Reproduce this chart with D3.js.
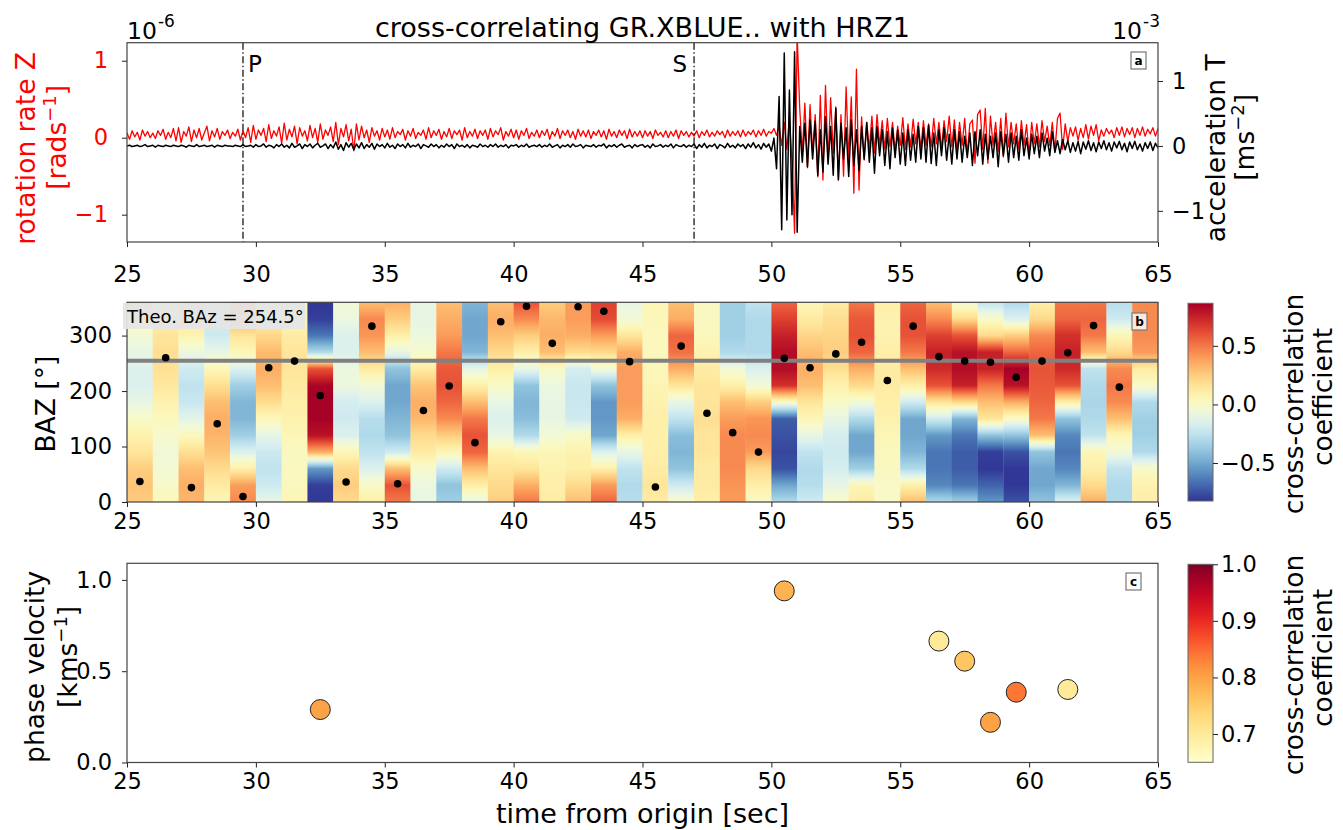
<!DOCTYPE html>
<html>
<head>
<meta charset="utf-8">
<script src="https://cdn.jsdelivr.net/npm/d3@7"></script>
<style>
  body { margin: 0; background: #fff; }
  text { font-family: "DejaVu Sans", sans-serif; }
</style>
</head>
<body>
<svg id="chart" width="1343" height="830"></svg>
<script>
// ---------- data ----------
// traces sampled every 0.1 s from 25 s to 65 s
const t0 = 25, dt = 0.1;
// rotation rate Z, in units of 1e-8 rad/s
const rotZ = [
  6,-2,9,1,7,-3,10,2,8,0,6,-1,9,3,11,-2,7,0,12,-4,
  13,-6,8,2,14,-5,10,0,12,-3,6,15,-4,9,1,12,-2,8,3,10,
  -1,7,2,11,-3,9,0,13,-6,16,-2,10,3,12,-5,17,-1,9,2,14,
  -7,19,-3,11,1,15,-8,13,2,9,-4,16,0,12,-6,18,-2,10,3,14,
  -5,20,-9,12,1,17,-4,11,-17,18,-3,15,0,10,-6,13,2,9,-3,12,
  1,10,-2,13,0,8,4,11,-3,9,2,12,-1,7,3,10,-2,13,0,9,
  3,11,-2,8,1,12,-1,9,4,10,-3,13,0,8,2,11,-1,9,3,10,
  -2,12,1,9,4,13,-3,8,2,11,0,10,-2,9,3,12,-1,7,2,10,
  0,9,3,11,-2,8,2,12,-1,9,3,10,0,8,-2,11,2,9,1,10,
  -1,8,3,10,1,9,-2,11,2,8,0,10,3,9,-1,11,1,8,2,9,
  0,9,2,8,-1,10,3,7,1,9,0,8,2,10,-1,9,3,8,1,7,
  2,9,0,8,3,10,1,7,2,9,4,8,0,10,2,8,3,9,1,10,
  2,8,4,10,1,9,3,11,2,8,
  6,12,3,15,-10,20,-15,25,-30,-124,
  135,38,-20,45,-39,43,-20,30,-51,55,
  -55,68,-30,52,-20,40,-55,30,-50,66,
  -30,53,-72,89,-68,27,-29,20,-15,28,
  -20,30,-10,22,-15,25,-12,20,-18,15,
  -10,26,-15,18,-12,24,-8,20,-14,22,
  -10,18,-12,25,-8,20,-15,22,-5,28,
  -12,23,-18,20,-10,25,-22,18,23,-33,
  30,36,-15,38,-33,28,-10,20,-18,25,
  -25,32,-12,20,-8,18,-15,22,-10,17,
  -22,20,-8,18,-12,22,-5,15,-10,20,
  -18,25,32,-15,18,-5,13,2,14,-3,
  12,0,17,-2,15,3,17,-4,10,2,
  12,5,10,0,13,3,14,1,12,4,
  13,0,12,3,14,2,11,5,13,2,
  12
];
// acceleration T, in units of 1e-5 m/s^2
const accT = [
  0,1,-1,0,1,-1,0,2,-1,0,1,-2,1,0,-1,1,0,-1,1,0,
  -1,1,0,-2,1,0,-1,2,-1,0,1,-1,0,1,-2,1,0,-1,1,0,
  0,-1,1,0,-1,2,-1,0,1,-2,2,-1,0,3,-2,1,0,-3,2,-1,
  3,-2,1,-3,4,-2,0,3,-4,2,-1,3,-3,1,4,-2,0,3,-4,2,
  -3,6,-5,2,-7,5,-2,4,-6,3,-3,5,-4,2,-2,4,-5,3,-1,2,
  -3,4,-2,1,-4,3,-1,2,-3,4,-2,1,-1,3,-4,2,0,-2,3,-1,
  2,-3,1,-2,3,-1,2,-4,3,-1,1,-2,2,-3,1,0,-2,3,-1,1,
  -2,2,-1,3,-2,1,-1,2,-3,1,0,2,-2,1,-1,3,-2,0,1,-1,
  2,-2,1,-1,3,-2,0,2,-3,1,-1,2,-2,3,-1,0,2,-3,1,0,
  -1,2,-2,1,0,3,-3,1,-1,2,-2,1,3,-2,0,1,-3,2,-1,1,
  2,-2,1,-3,3,-1,0,2,-2,1,-1,3,-3,2,0,-1,2,-2,1,-1,
  3,-4,2,-2,4,-3,1,-1,3,-4,2,0,-3,4,-2,1,-3,3,-1,2,
  -4,3,-2,5,-3,2,-5,4,-2,3,
  -8,12,-35,76,-129,143,-114,86,-106,145,
  -133,30,-25,35,-32,40,-20,38,-45,25,
  -40,45,-28,30,-45,58,-52,35,-20,28,
  -47,40,-30,25,-38,30,-20,36,-25,28,
  -42,30,-15,25,-30,22,-35,28,-18,24,
  -28,20,-30,25,-22,18,-25,30,-20,28,
  -25,32,-27,20,-30,25,-15,28,-22,18,
  -28,25,-20,22,-25,15,-18,20,-30,22,
  -15,25,-28,18,-20,15,-18,20,-32,22,
  -15,18,-25,20,-18,15,-22,25,-15,12,
  -20,18,-12,15,-18,20,-8,12,-15,22,
  -10,8,-12,10,-6,8,-10,5,-8,7,
  -12,6,-5,8,-7,5,-9,6,-4,8,
  -6,5,-8,6,-3,7,-6,4,-9,6,
  -4,7,-6,3,-8,5,-4,6,-7,4,
  -3
];
const pickP = 29.5, pickS = 47.0;

// 1-s windows, cross-correlation sampled every 30 deg of BAZ (0..360)
const winStart = d3.range(25, 65, 1);
const bazGrid = [0, 30, 60, 90, 120, 150, 180, 210, 240, 270, 300, 330, 360];
const ccByWindow = [
  [0.25,0.28,0.25,0.15,0.08,0.0,-0.1,-0.15,-0.15,-0.1,-0.05,0.1,0.25],
  [0.04,-0.01,-0.04,-0.05,-0.02,0.03,0.08,0.14,0.17,0.18,0.15,0.1,0.04],
  [0.32,0.35,0.3,0.18,0.03,-0.12,-0.22,-0.25,-0.2,-0.08,0.07,0.15,0.25],
  [0.05,0.12,0.2,0.28,0.33,0.35,0.3,0.18,0.05,-0.1,-0.2,-0.2,-0.15],
  [0.45,0.4,0.1,-0.15,-0.35,-0.45,-0.45,-0.35,-0.15,0.05,0.15,0.35,0.45],
  [-0.1,-0.2,-0.25,-0.21,-0.11,0.04,0.19,0.3,0.35,0.31,0.21,0.1,0.0],
  [0.05,0.03,0.02,0.02,0.05,0.08,0.1,0.13,0.15,0.15,0.12,0.08,0.05],
  [-0.82,-0.8,-0.55,0.35,0.8,0.86,0.86,0.85,0.6,-0.3,-0.65,-0.8,-0.82],
  [0.2,0.25,0.2,0.05,-0.15,-0.2,-0.18,-0.08,-0.08,-0.15,-0.15,-0.08,-0.05],
  [0.1,0.0,-0.15,-0.25,-0.3,-0.28,-0.15,-0.05,0.12,0.3,0.42,0.45,0.3],
  [0.5,0.6,0.3,-0.2,-0.4,-0.45,-0.5,-0.5,-0.4,-0.1,0.1,0.25,0.35],
  [-0.1,-0.08,-0.02,0.12,0.2,0.32,0.35,0.28,0.12,-0.02,-0.08,-0.1,-0.1],
  [-0.35,-0.4,-0.2,0.05,0.25,0.45,0.55,0.6,0.58,0.5,0.4,0.35,0.3],
  [-0.1,0.1,0.3,0.55,0.6,0.5,0.3,0.1,-0.1,-0.45,-0.5,-0.5,-0.45],
  [0.25,0.2,0.15,0.08,-0.1,-0.15,-0.1,0.0,0.1,0.2,0.3,0.35,0.3],
  [0.5,0.35,0.15,0.05,-0.3,-0.42,-0.45,-0.4,-0.1,0.1,0.25,0.45,0.6],
  [0.12,0.1,0.08,0.05,-0.05,-0.1,-0.1,-0.08,0.0,0.3,0.35,0.32,0.25],
  [0.3,0.2,0.1,0.08,0.0,-0.2,-0.22,-0.22,-0.18,0.2,0.35,0.4,0.4],
  [0.55,0.4,0.1,-0.15,-0.5,-0.55,-0.55,-0.4,-0.05,0.2,0.4,0.62,0.65],
  [-0.28,-0.3,-0.25,-0.1,0.1,0.35,0.4,0.4,0.4,0.35,0.15,-0.05,-0.1],
  [0.12,0.15,0.12,0.1,0.1,0.1,0.08,0.06,0.04,0.03,0.03,0.04,0.06],
  [0.0,-0.2,-0.4,-0.45,-0.42,-0.25,-0.1,0.15,0.35,0.52,0.55,0.35,0.3],
  [0.1,0.12,0.12,0.15,0.15,0.18,0.15,0.15,0.12,0.08,0.03,0.02,0.02],
  [0.4,0.42,0.45,0.45,0.45,0.4,0.3,0.1,-0.05,-0.3,-0.35,-0.35,-0.35],
  [0.0,0.1,0.2,0.4,0.45,0.42,0.25,-0.05,-0.15,-0.3,-0.3,-0.3,-0.25],
  [-0.3,-0.5,-0.75,-0.78,-0.75,-0.72,0.0,0.7,0.82,0.82,0.75,0.65,0.55],
  [-0.2,-0.28,-0.3,-0.25,-0.1,0.05,0.15,0.3,0.35,0.3,0.22,0.12,0.05],
  [0.0,-0.1,-0.18,-0.2,-0.18,-0.1,0.0,0.08,0.18,0.25,0.22,0.18,0.12],
  [0.12,0.05,-0.35,-0.5,-0.5,-0.3,-0.05,0.2,0.35,0.55,0.6,0.58,0.5],
  [0.0,0.0,0.02,0.03,0.05,0.08,0.1,0.12,0.12,0.1,0.08,0.08,0.1],
  [0.3,0.1,-0.3,-0.45,-0.5,-0.5,-0.2,0.1,0.3,0.5,0.6,0.6,0.55],
  [-0.3,-0.6,-0.65,-0.65,-0.55,-0.2,0.15,0.6,0.72,0.75,0.65,0.45,0.3],
  [-0.35,-0.65,-0.72,-0.72,-0.65,-0.45,0.2,0.75,0.82,0.8,0.6,0.2,-0.05],
  [-0.55,-0.7,-0.82,-0.8,-0.4,0.15,0.3,0.5,0.75,0.75,0.2,0.0,-0.25],
  [-0.75,-0.82,-0.82,-0.75,-0.4,0.0,0.35,0.8,0.86,0.55,0.25,-0.15,-0.3],
  [-0.4,-0.5,-0.5,-0.4,0.3,0.5,0.55,0.58,0.6,0.55,0.45,0.2,0.1],
  [-0.15,-0.45,-0.6,-0.65,-0.6,-0.4,0.1,0.6,0.72,0.75,0.7,0.55,0.5],
  [0.35,0.2,0.1,0.05,-0.25,-0.3,-0.32,-0.3,-0.25,0.3,0.5,0.55,0.5],
  [-0.3,-0.3,-0.25,-0.05,0.05,0.3,0.45,0.5,0.45,0.2,0.05,-0.2,-0.28],
  [0.1,0.08,0.0,-0.3,-0.35,-0.35,-0.3,0.0,0.12,0.4,0.45,0.45,0.45]
];
// BAZ of max correlation per window (last window has none)
const bazMax = [37,260,26,141,10,242,254,192,36,317,33,165,209,107,325,353,286,352,344,253,
                27,281,160,125,90,259,242,267,288,219,317,262,254,252,225,254,269,318,207];
const theoBaz = 254.5;
const ccRange = [-0.824, 0.863];

// phase velocity estimates
const velTime = [32.5, 50.5, 56.5, 57.5, 58.5, 59.5, 61.5];
const velValue = [0.29, 0.94, 0.665, 0.555, 0.22, 0.385, 0.40];
const velCC = [0.80, 0.78, 0.70, 0.76, 0.80, 0.84, 0.70];
const velCCRange = [0.65, 1.0];

const xTicks = [25, 30, 35, 40, 45, 50, 55, 60, 65];

// ---------- layout ----------
const svg = d3.select('#chart');
const xL = 127, xR = 1158;
const top1 = 42.7, bot1 = 242;
const top2 = 302.3, bot2 = 502;
const top3 = 563.3, bot3 = 762.5;
const cbX = 1188, cbW = 25;

const x = d3.scaleLinear().domain([25, 65]).range([xL, xR]);
const yRot = d3.scaleLinear().domain([-135.5, 123.4]).range([bot1, top1]);
const yAcc = d3.scaleLinear().domain([-148, 159]).range([bot1, top1]);
const yBaz = d3.scaleLinear().domain([0, 360]).range([bot2, top2]);
const yVel = d3.scaleLinear().domain([0, 1.091]).range([bot3, top3]);

const ccColor = d3.scaleSequential(t => d3.interpolateRdYlBu(1 - t)).domain(ccRange);
const velColor = d3.scaleSequential(d3.interpolateYlOrRd).domain(velCCRange);

function styleAxis(g, size) {
  g.select('.domain').remove();
  g.selectAll('.tick line').attr('stroke', '#222').attr('stroke-width', 1);
  g.selectAll('.tick text').attr('font-size', size || 22.5).attr('fill', '#000')
    .attr('font-family', '"DejaVu Sans", sans-serif');
}
function frame(y0, y1) {
  svg.append('rect').attr('x', xL).attr('y', y0).attr('width', xR - xL).attr('height', y1 - y0)
    .attr('fill', 'none').attr('stroke', '#444').attr('stroke-width', 1.2);
}
function rotLabel(cx, cy, parts, color, size) {
  const t = svg.append('text').attr('transform', `translate(${cx},${cy}) rotate(-90)`)
    .attr('text-anchor', 'middle').attr('font-size', size || 26.5).attr('fill', color || '#000');
  parts.forEach(p => {
    const s = t.append('tspan').text(p.t);
    if (p.sup) s.attr('font-size', 18).attr('dy', -10);
    if (p.after) s.attr('dy', 10);
  });
  return t;
}
function panelTag(px, py, letter) {
  svg.append('rect').attr('x', px).attr('y', py).attr('width', 15).attr('height', 17)
    .attr('fill', '#fff').attr('fill-opacity', 0.8).attr('stroke', '#777').attr('stroke-width', 1.2);
  svg.append('text').attr('x', px + 7.5).attr('y', py + 12.5).attr('text-anchor', 'middle')
    .attr('font-size', 12).attr('font-weight', 'bold').text(letter);
}

const defs = svg.append('defs');
defs.append('clipPath').attr('id', 'clipTop').append('rect')
  .attr('x', xL).attr('y', top1).attr('width', xR - xL).attr('height', bot1 - top1);

// ---------- panel a: waveforms ----------
const lineRot = d3.line().x((d, i) => x(t0 + i * dt)).y(d => yRot(d));
const lineAcc = d3.line().x((d, i) => x(t0 + i * dt)).y(d => yAcc(d));
const gA = svg.append('g').attr('clip-path', 'url(#clipTop)');
gA.append('path').datum(rotZ).attr('d', lineRot).attr('fill', 'none')
  .attr('stroke', '#ff0000').attr('stroke-width', 1.3).attr('stroke-linejoin', 'round');
gA.append('path').datum(accT).attr('d', lineAcc).attr('fill', 'none')
  .attr('stroke', '#000').attr('stroke-width', 1.5).attr('stroke-linejoin', 'round');
[pickP, pickS].forEach(p => {
  gA.append('line').attr('x1', x(p)).attr('x2', x(p)).attr('y1', top1).attr('y2', bot1)
    .attr('stroke', '#000').attr('stroke-width', 1.2).attr('stroke-dasharray', '7,2.5,1.5,2.5');
});
svg.append('text').attr('x', x(pickP) + 5).attr('y', 72).attr('font-size', 23).text('P');
svg.append('text').attr('x', x(pickS) - 7).attr('y', 72).attr('font-size', 23)
  .attr('text-anchor', 'end').text('S');
frame(top1, bot1);
panelTag(1131, 52, 'a');

svg.append('g').attr('transform', `translate(0,${bot1})`)
  .call(d3.axisBottom(x).tickValues(xTicks).tickSize(5).tickPadding(19)).call(styleAxis);
svg.append('g').attr('transform', `translate(${xL},0)`)
  .call(d3.axisLeft(yRot).tickValues([-100, 0, 100]).tickSize(5).tickPadding(14)
    .tickFormat(d => d3.format('d')(d / 100)))
  .call(styleAxis).selectAll('.tick text').attr('fill', '#ff0000');
svg.append('g').attr('transform', `translate(${xR},0)`)
  .call(d3.axisRight(yAcc).tickValues([-100, 0, 100]).tickSize(5).tickPadding(9)
    .tickFormat(d => d3.format('d')(d / 100)))
  .call(styleAxis);

// offset exponents and title
const e6 = svg.append('text').attr('x', xL).attr('y', 39).attr('font-size', 23.5);
e6.append('tspan').text('10');
e6.append('tspan').attr('font-size', 17).attr('dx', 1).attr('dy', -12).text('-6');
const e3 = svg.append('text').attr('x', 1160).attr('y', 39).attr('font-size', 23.5).attr('text-anchor', 'end');
e3.append('tspan').text('10');
e3.append('tspan').attr('font-size', 17).attr('dx', 1).attr('dy', -12).text('-3');
svg.append('text').attr('x', (xL + xR) / 2).attr('y', 37).attr('text-anchor', 'middle')
  .attr('font-size', 27).text('cross-correlating GR.XBLUE.. with HRZ1');

const cyA = (top1 + bot1) / 2;
rotLabel(35, cyA + 6, [{ t: 'rotation rate Z' }], '#ff0000');
rotLabel(66, cyA - 5, [{ t: '[rads' }, { t: '\u22121', sup: true }, { t: ']', after: true }], '#ff0000');
rotLabel(1225, cyA + 6, [{ t: 'acceleration T' }]);
rotLabel(1254, cyA - 5, [{ t: '[ms' }, { t: '\u22122', sup: true }, { t: ']', after: true }]);

// ---------- panel b: BAZ heatmap ----------
const bazStops = d3.range(0, 361, 5);
winStart.forEach((w, i) => {
  const col = ccByWindow[i];
  const valueAt = d3.scaleLinear().domain(bazGrid).range(col);
  const grad = defs.append('linearGradient').attr('id', 'cc' + i)
    .attr('x1', 0).attr('y1', 1).attr('x2', 0).attr('y2', 0);
  bazStops.forEach(b => {
    grad.append('stop').attr('offset', b / 360).attr('stop-color', ccColor(valueAt(b)));
  });
  svg.append('rect').attr('x', x(w)).attr('y', yBaz(360))
    .attr('width', x(w + 1) - x(w) + 0.3).attr('height', yBaz(0) - yBaz(360))
    .attr('fill', `url(#cc${i})`);
});
svg.append('line').attr('x1', xL).attr('x2', xR).attr('y1', yBaz(theoBaz)).attr('y2', yBaz(theoBaz))
  .attr('stroke', '#808080').attr('stroke-width', 4);
svg.selectAll('circle.baz').data(bazMax).enter().append('circle').attr('class', 'baz')
  .attr('cx', (d, i) => x(winStart[i] + 0.5)).attr('cy', d => yBaz(d)).attr('r', 3.8).attr('fill', '#000');
frame(top2, bot2);
svg.append('rect').attr('x', 123).attr('y', 303).attr('width', 182).attr('height', 26)
  .attr('fill', '#e5e5e5').attr('fill-opacity', 0.95);
svg.append('text').attr('x', 127).attr('y', 323).attr('font-size', 18)
  .text('Theo. BAz = ' + theoBaz + '\u00b0');
panelTag(1132, 313, 'b');

svg.append('g').attr('transform', `translate(0,${bot2})`)
  .call(d3.axisBottom(x).tickValues(xTicks).tickSize(5).tickPadding(6)).call(styleAxis);
svg.append('g').attr('transform', `translate(${xL},0)`)
  .call(d3.axisLeft(yBaz).tickValues([0, 100, 200, 300]).tickSize(5).tickPadding(10))
  .call(styleAxis);
rotLabel(55, (top2 + bot2) / 2 + 2, [{ t: 'BAZ [\u00b0]' }]);

// colorbar for heatmap
const yCb1 = d3.scaleLinear().domain(ccRange).range([501, 303.3]);
const cbGrad1 = defs.append('linearGradient').attr('id', 'cb1').attr('x1', 0).attr('y1', 1).attr('x2', 0).attr('y2', 0);
d3.range(0, 1.001, 0.05).forEach(t => cbGrad1.append('stop').attr('offset', t)
  .attr('stop-color', ccColor(ccRange[0] + t * (ccRange[1] - ccRange[0]))));
svg.append('rect').attr('x', cbX).attr('y', 303.3).attr('width', cbW).attr('height', 501 - 303.3)
  .attr('fill', 'url(#cb1)').attr('stroke', '#666').attr('stroke-width', 1);
svg.append('g').attr('transform', `translate(${cbX + cbW},0)`)
  .call(d3.axisRight(yCb1).tickValues([-0.5, 0, 0.5]).tickSize(5).tickPadding(3).tickFormat(d3.format('.1f')))
  .call(styleAxis);
rotLabel(1303, 404, [{ t: 'cross-correlation' }]);
rotLabel(1332, 397, [{ t: 'coefficient' }]);

// ---------- panel c: phase velocity ----------
svg.append('g').attr('transform', `translate(0,${bot3})`)
  .call(d3.axisBottom(x).tickValues(xTicks).tickSize(5).tickPadding(6)).call(styleAxis);
svg.append('g').attr('transform', `translate(${xL},0)`)
  .call(d3.axisLeft(yVel).tickValues([0, 0.5, 1.0]).tickSize(5).tickPadding(10).tickFormat(d3.format('.1f')))
  .call(styleAxis);
svg.selectAll('circle.vel').data(velTime).enter().append('circle').attr('class', 'vel')
  .attr('cx', d => x(d)).attr('cy', (d, i) => yVel(velValue[i])).attr('r', 10)
  .attr('fill', (d, i) => velColor(velCC[i])).attr('stroke', '#222').attr('stroke-width', 1);
frame(top3, bot3);
panelTag(1126, 573, 'c');
rotLabel(44, (top3 + bot3) / 2 + 4, [{ t: 'phase velocity' }]);
rotLabel(77, (top3 + bot3) / 2 - 6, [{ t: '[kms' }, { t: '\u22121', sup: true }, { t: ']', after: true }]);
svg.append('text').attr('x', (xL + xR) / 2).attr('y', 823).attr('text-anchor', 'middle')
  .attr('font-size', 27).text('time from origin [sec]');

// colorbar for velocity points
const yCb2 = d3.scaleLinear().domain(velCCRange).range([762.3, 564.3]);
const cbGrad2 = defs.append('linearGradient').attr('id', 'cb2').attr('x1', 0).attr('y1', 1).attr('x2', 0).attr('y2', 0);
d3.range(0, 1.001, 0.05).forEach(t => cbGrad2.append('stop').attr('offset', t)
  .attr('stop-color', velColor(velCCRange[0] + t * (velCCRange[1] - velCCRange[0]))));
svg.append('rect').attr('x', cbX).attr('y', 564.3).attr('width', cbW).attr('height', 762.3 - 564.3)
  .attr('fill', 'url(#cb2)').attr('stroke', '#666').attr('stroke-width', 1);
svg.append('g').attr('transform', `translate(${cbX + cbW},0)`)
  .call(d3.axisRight(yCb2).tickValues([0.7, 0.8, 0.9, 1.0]).tickSize(5).tickPadding(3).tickFormat(d3.format('.1f')))
  .call(styleAxis);
rotLabel(1303, 665, [{ t: 'cross-correlation' }]);
rotLabel(1332, 658, [{ t: 'coefficient' }]);
</script>
</body>
</html>
